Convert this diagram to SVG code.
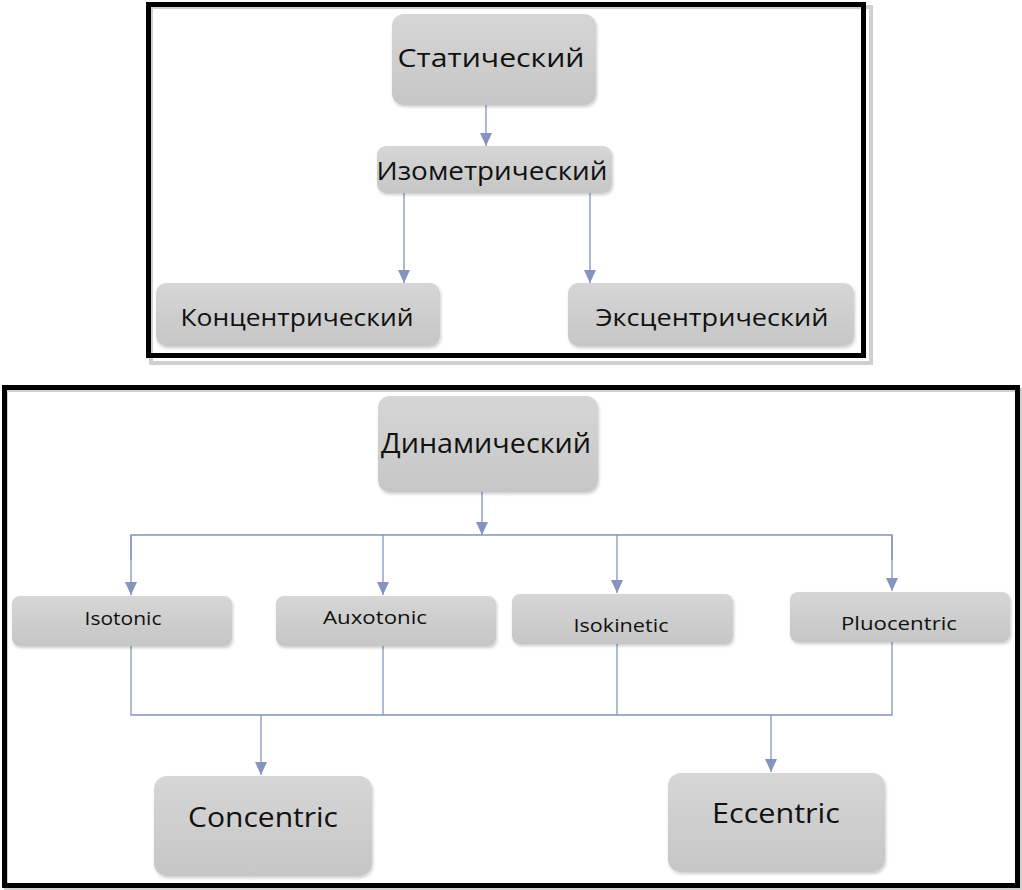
<svg xmlns="http://www.w3.org/2000/svg" width="1022" height="890" viewBox="0 0 1022 890">
<style>
.frame{fill:none;stroke:#000;stroke-width:5}
.fshadow{fill:none;stroke:#d0d0d0;stroke-width:4}
.box{fill:url(#g);filter:url(#sh)}
.t{font-family:"Open Sans","Noto Sans",sans-serif;fill:#111;text-anchor:middle;dominant-baseline:central}
.c{fill:none;stroke:#8494bd;stroke-width:1.3}
.ca{fill:none;stroke:#8494bd;stroke-width:1.3;marker-end:url(#ah)}
</style>
<defs>
<linearGradient id="g" x1="0" y1="0" x2="0" y2="1">
<stop offset="0" stop-color="#d6d6d6"/>
<stop offset="1" stop-color="#c6c6c6"/>
</linearGradient>
<filter id="sh" x="-10%" y="-10%" width="120%" height="130%">
<feDropShadow dx="1" dy="2" stdDeviation="1.5" flood-color="#000" flood-opacity="0.2"/>
</filter>
<marker id="ah" markerWidth="13" markerHeight="12" refX="13" refY="6" orient="auto" markerUnits="userSpaceOnUse" viewBox="0 0 13 12">
<path d="M0,0 L13,6 L0,12 Z" fill="#8494bd"/>
</marker>
</defs>
<rect width="1022" height="890" fill="#fff"/>
<g id="frames">
<rect class="fshadow" x="151" y="7" width="720" height="356"/>
<rect class="frame" x="148.5" y="4.5" width="715" height="351"/>
<rect class="fshadow" x="6" y="390" width="1014" height="500"/>
<rect class="frame" x="4.5" y="387.5" width="1013" height="498"/>
</g>
<g id="connectors">
<line class="ca" x1="486" y1="105" x2="486" y2="146"/>
<line class="ca" x1="404" y1="193" x2="404" y2="283"/>
<line class="ca" x1="590" y1="193" x2="590" y2="283"/>
<line class="ca" x1="482" y1="492" x2="482" y2="535"/>
<polyline class="c" points="131,560 131,535 892,535 892,560"/>
<line class="ca" x1="131" y1="535" x2="131" y2="595"/>
<line class="ca" x1="383" y1="535" x2="383" y2="595"/>
<line class="ca" x1="617" y1="535" x2="617" y2="593"/>
<line class="ca" x1="892" y1="535" x2="892" y2="591"/>
<polyline class="c" points="131,646 131,715 892,715 892,642"/>
<line class="c" x1="383" y1="646" x2="383" y2="715"/>
<line class="c" x1="617" y1="644" x2="617" y2="715"/>
<line class="ca" x1="261" y1="715" x2="261" y2="775"/>
<line class="ca" x1="771" y1="715" x2="771" y2="772"/>
</g>
<g id="n-static"><rect class="box" x="392" y="14" width="204" height="91" rx="12"/><text class="t" x="491" y="57" font-size="26" textLength="187" lengthAdjust="spacingAndGlyphs">Статический</text></g>
<g id="n-isometric"><rect class="box" x="377" y="146" width="235" height="47" rx="9"/><text class="t" x="492" y="170" font-size="26" textLength="231" lengthAdjust="spacingAndGlyphs">Изометрический</text></g>
<g id="n-konc"><rect class="box" x="156" y="283" width="284" height="63" rx="10"/><text class="t" x="297" y="316" font-size="24" textLength="233" lengthAdjust="spacingAndGlyphs">Концентрический</text></g>
<g id="n-eksc"><rect class="box" x="568" y="283" width="286" height="63" rx="10"/><text class="t" x="712" y="316" font-size="24" textLength="233" lengthAdjust="spacingAndGlyphs">Эксцентрический</text></g>
<g id="n-dynamic"><rect class="box" x="378" y="396" width="220" height="96" rx="12"/><text class="t" x="486" y="442" font-size="28" textLength="210" lengthAdjust="spacingAndGlyphs">Динамический</text></g>
<g id="n-isotonic"><rect class="box" x="12" y="596" width="220" height="50" rx="8"/><text class="t" x="123" y="618" font-size="19" textLength="77" lengthAdjust="spacingAndGlyphs">Isotonic</text></g>
<g id="n-auxotonic"><rect class="box" x="276" y="596" width="220" height="50" rx="8"/><text class="t" x="375" y="617" font-size="19" textLength="104" lengthAdjust="spacingAndGlyphs">Auxotonic</text></g>
<g id="n-isokinetic"><rect class="box" x="512" y="594" width="221" height="50" rx="8"/><text class="t" x="621" y="625" font-size="19" textLength="95" lengthAdjust="spacingAndGlyphs">Isokinetic</text></g>
<g id="n-pluocentric"><rect class="box" x="790" y="592" width="220" height="50" rx="8"/><text class="t" x="899" y="623" font-size="19" textLength="116" lengthAdjust="spacingAndGlyphs">Pluocentric</text></g>
<g id="n-concentric"><rect class="box" x="154" y="776" width="218" height="100" rx="13"/><text class="t" x="263" y="816" font-size="28" textLength="150" lengthAdjust="spacingAndGlyphs">Concentric</text></g>
<g id="n-eccentric"><rect class="box" x="668" y="773" width="217" height="99" rx="13"/><text class="t" x="776" y="812" font-size="28" textLength="128" lengthAdjust="spacingAndGlyphs">Eccentric</text></g>
</svg>
